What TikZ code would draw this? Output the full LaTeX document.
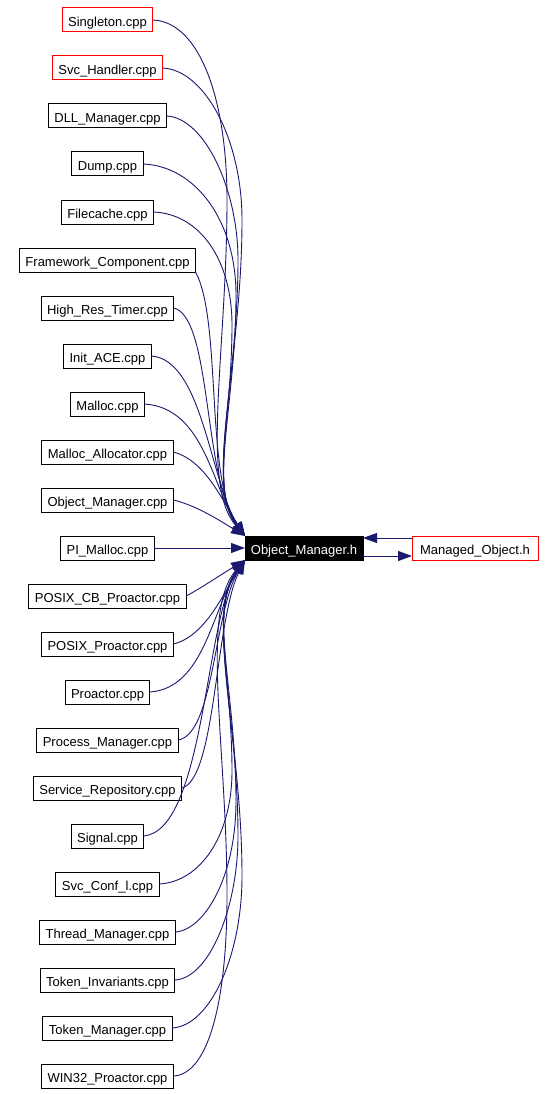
\documentclass[tikz,border=0pt]{standalone}
\usepackage{fontspec}
\setmainfont{Liberation Sans}
\usetikzlibrary{arrows.meta,calc}
\definecolor{edgeblue}{RGB}{25,25,112}
\begin{document}
\begin{tikzpicture}[x=1pt,y=-1pt,
  file/.style={draw=black, line width=1pt, fill=white, minimum height=24pt, text height=13.5pt, text depth=0pt, inner xsep=6pt, inner ysep=0pt, outer sep=0pt, font=\fontsize{13pt}{15pt}\selectfont},
  redfile/.style={file, draw=red},
  edge/.style={draw=edgeblue, line width=0.9pt, -{Triangle[length=14pt,width=10pt]}}]
\useasboundingbox (0,0) rectangle (555,1094);
% left column
\node[redfile] (n0) at (107.5,20) {Singleton.cpp};
\node[redfile] (n1) at (107.5,68) {Svc\_Handler.cpp};
\node[file] (n2) at (107.5,116) {DLL\_Manager.cpp};
\node[file] (n3) at (107.5,164) {Dump.cpp};
\node[file] (n4) at (107.5,212) {Filecache.cpp};
\node[file] (n5) at (107.5,260) {Framework\_Component.cpp};
\node[file] (n6) at (107.5,308) {High\_Res\_Timer.cpp};
\node[file] (n7) at (107.5,356) {Init\_ACE.cpp};
\node[file] (n8) at (107.5,404) {Malloc.cpp};
\node[file] (n9) at (107.5,452) {Malloc\_Allocator.cpp};
\node[file] (n10) at (107.5,500) {Object\_Manager.cpp};
\node[file] (n11) at (107.5,548) {PI\_Malloc.cpp};
\node[file] (n12) at (107.5,596) {POSIX\_CB\_Proactor.cpp};
\node[file] (n13) at (107.5,644) {POSIX\_Proactor.cpp};
\node[file] (n14) at (107.5,692) {Proactor.cpp};
\node[file] (n15) at (107.5,740) {Process\_Manager.cpp};
\node[file] (n16) at (107.5,788) {Service\_Repository.cpp};
\node[file] (n17) at (107.5,836) {Signal.cpp};
\node[file] (n18) at (107.5,884) {Svc\_Conf\_l.cpp};
\node[file] (n19) at (107.5,932) {Thread\_Manager.cpp};
\node[file] (n20) at (107.5,980) {Token\_Invariants.cpp};
\node[file] (n21) at (107.5,1028) {Token\_Manager.cpp};
\node[file] (n22) at (107.5,1076) {WIN32\_Proactor.cpp};
% centre and right
\node[file, fill=black, text=white, minimum width=118pt, inner xsep=0pt] (omh) at (304,548) {Object\_Manager.h};
\node[redfile, minimum width=126pt, inner xsep=0pt] (mo) at (475,548) {Managed\_Object.h};
\coordinate (et) at (omh.north west);
\coordinate (eb) at (omh.south west);
% top edges
\draw[edge] (n0.east) .. controls (200,22) and (227,100) .. (227,200) .. controls (227,351) and (200,485) .. (et);
\draw[edge] (n1.east) .. controls (205,70) and (242,140) .. (242,220) .. controls (242,362) and (204,485) .. (et);
\draw[edge] (n2.east) .. controls (205,118) and (238,190) .. (238,260) .. controls (238,385) and (206,485) .. (et);
\draw[edge] (n3.east) .. controls (195,166) and (236,220) .. (236,295) .. controls (236,405) and (208,488) .. (et);
\draw[edge] (n4.east) .. controls (200,214) and (232,260) .. (232,325) .. controls (232,420) and (210,490) .. (et);
\draw[edge] (n5.south east) .. controls (222,320) and (205,480) .. (et);
\draw[edge] (n6.east) .. controls (212,318) and (203,478) .. (et);
\draw[edge] (n7.east) .. controls (203,360) and (210,482) .. (et);
\draw[edge] (n8.east) .. controls (205,408) and (212,488) .. (et);
\draw[edge] (n9.east) .. controls (205,460) and (222,500) .. (et);
\draw[edge] (n10.east) .. controls (198,506) and (222,522) .. (et);
\draw[edge] (n11) -- (omh);
% bottom edges
\draw[edge] (n12.east) .. controls (198,590) and (222,574) .. (eb);
\draw[edge] (n13.east) .. controls (205,636) and (222,596) .. (eb);
\draw[edge] (n14.east) .. controls (205,688) and (212,608) .. (eb);
\draw[edge] (n15.east) .. controls (214,734) and (214,612) .. (eb);
\draw[edge] (n16.east) .. controls (216,780) and (215,620) .. (eb);
\draw[edge] (n17.east) .. controls (205,830) and (205,616) .. (eb);
\draw[edge] (n18.east) .. controls (200,882) and (232,836) .. (232,771) .. controls (232,676) and (210,606) .. (eb);
\draw[edge] (n19.east) .. controls (205,930) and (236,876) .. (236,801) .. controls (236,691) and (208,608) .. (eb);
\draw[edge] (n20.east) .. controls (210,978) and (238,906) .. (238,836) .. controls (238,711) and (206,611) .. (eb);
\draw[edge] (n21.east) .. controls (210,1026) and (242,956) .. (242,876) .. controls (242,736) and (204,616) .. (eb);
\draw[edge] (n22.east) .. controls (210,1074) and (227,996) .. (227,896) .. controls (227,745) and (200,611) .. (eb);
% between the two headers
\draw[edge] ([yshift=10pt]mo.west) -- ([yshift=10pt]omh.east);
\draw[edge] ([yshift=-8pt]omh.east) -- ([yshift=-8pt]mo.west);
\end{tikzpicture}
\end{document}
